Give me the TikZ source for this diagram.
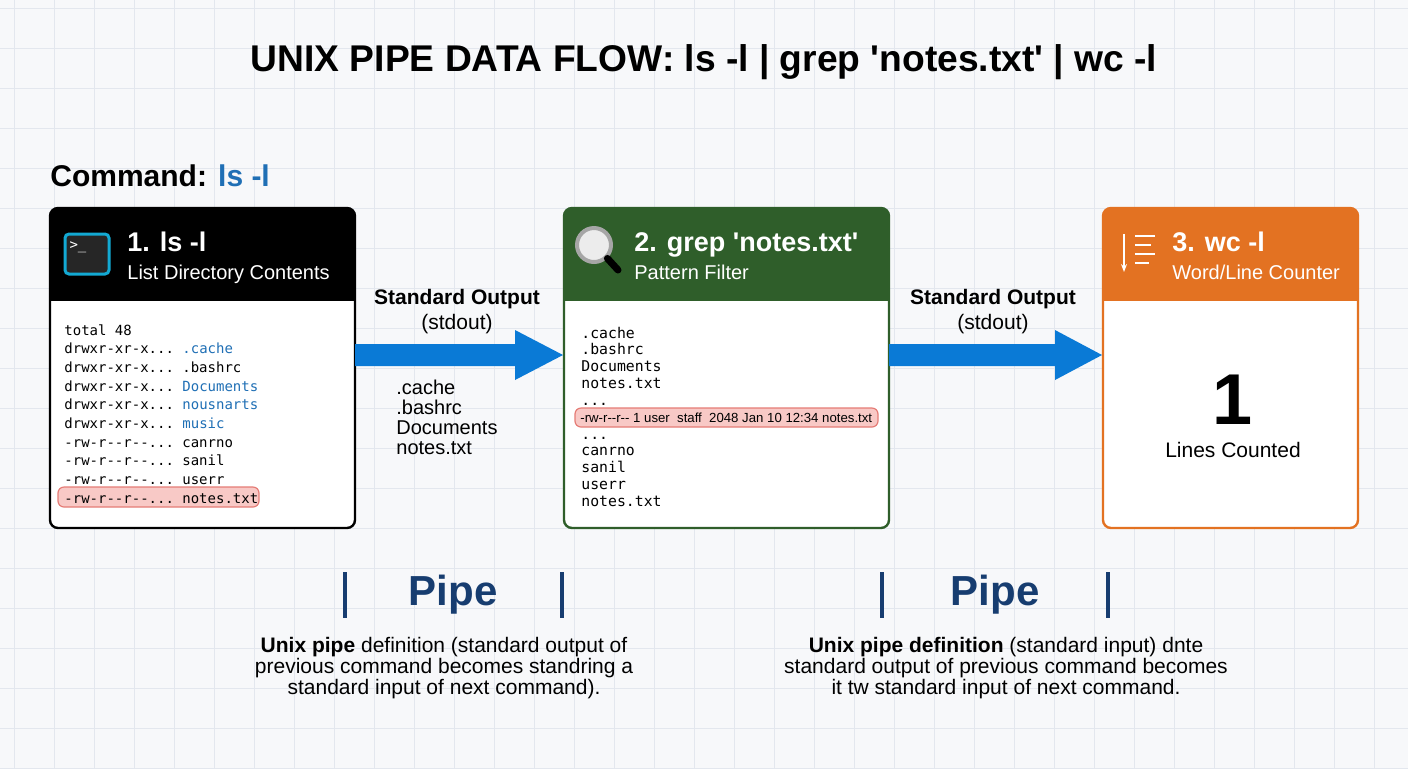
\documentclass[tikz,border=0pt]{standalone}
\usepackage{fontspec}
\setmainfont{Liberation Sans}[Ligatures=TeXOff]
\setmonofont{DejaVu Sans Mono}
\usetikzlibrary{arrows.meta}
\definecolor{bg}{HTML}{F7F8FA}
\definecolor{gridc}{HTML}{E3E7EE}
\definecolor{hdrg}{HTML}{2F5E2A}
\definecolor{hdro}{HTML}{E37222}
\definecolor{abl}{HTML}{0A7AD6}
\definecolor{lnk}{HTML}{1F6FB5}
\definecolor{pipec}{HTML}{173D70}
\definecolor{hl}{HTML}{F8C9C6}
\definecolor{hlb}{HTML}{E57C76}
\newcommand{\fs}[1]{\fontsize{#1}{#1}\selectfont}
\newcommand{\dd}{.{}.{}.}
\tikzset{x=0.5pt,y=-0.5pt,
 card/.style={draw=#1,line width=1.2pt,rounded corners=4pt},
 txt/.style={inner sep=0pt,anchor=base west},
 mono/.style={txt,font=\ttfamily\fs{7.0}},
 lab/.style={inner sep=0pt,align=center,font=\fs{10.5}\bfseries},
 bodyt/.style={inner sep=0pt,align=center,font=\fs{10.5}}}
\begin{document}
\begin{tikzpicture}
\useasboundingbox (0,0) rectangle (1408,768);
\fill[bg] (0,0) rectangle (1408,768);
\foreach \i in {0,...,35}{\draw[gridc,line width=0.4pt] (\i*40+14,0)--(\i*40+14,768);}
\foreach \j in {0,...,19}{\draw[gridc,line width=0.4pt] (0,\j*40+8)--(1408,\j*40+8);}
\node[inner sep=0pt,font=\fs{18.6}\bfseries] (title) at (704,62) {UNIX PIPE DATA FLOW: ls -l | grep 'notes.txt' | wc -l};
\node[txt,font=\fs{15}\bfseries] (cmd) at (50,186) {Command: \textcolor{lnk}{ls -l}};
% box 1
\fill[white,rounded corners=4pt] (50,208) rectangle (355,528);
\begin{scope}
\clip[rounded corners=4pt] (50,208) rectangle (355,528);
\fill[black] (50,208) rectangle (355,301);
\end{scope}
\draw[card=black] (50,208) rectangle (355,528);
\node[draw=lnk!60!cyan,fill=black!85,line width=1.5pt,rounded corners=2pt,minimum width=22pt,minimum height=20pt] (ic1) at (87,254) {};
\node[inner sep=0pt,text=white,font=\ttfamily\fs{7}] (ic1t) at (78,247) {>\_};
\node[txt,text=white,font=\fs{13.5}\bfseries] (h1) at (127,251) {1. ls -l};
\node[txt,text=white,font=\fs{10}] (s1) at (127,279) {List Directory Contents};
\fill[hl,draw=hlb,line width=0.6pt,rounded corners=3pt] (58,487) rectangle (259,507);
\foreach \t [count=\k] in {total 48,drwxr-xr-x\dd{} \textcolor{lnk}{.cache},drwxr-xr-x\dd{} .bashrc,drwxr-xr-x\dd{} \textcolor{lnk}{Documents},drwxr-xr-x\dd{} \textcolor{lnk}{nousnarts},drwxr-xr-x\dd{} \textcolor{lnk}{music},-rw-r--r--\dd{} canrno,-rw-r--r--\dd{} sanil,-rw-r--r--\dd{} userr,-rw-r--r--\dd{} notes.txt}
 \node[mono] at (64,335+\k*18.7-18.7) {\t};
% box 2
\fill[white,rounded corners=4pt] (564,208) rectangle (889,528);
\begin{scope}
\clip[rounded corners=4pt] (564,208) rectangle (889,528);
\fill[hdrg] (564,208) rectangle (889,301);
\end{scope}
\draw[card=hdrg] (564,208) rectangle (889,528);
\node[draw=gray!70,fill=gray!15,line width=2pt,circle,minimum size=17pt,inner sep=0pt] (mag) at (594,245) {};
\draw[black,line width=3.5pt,line cap=round] (mag.-45)--(618,270);
\node[txt,text=white,font=\fs{13.5}\bfseries] (h2) at (634,251) {2. grep 'notes.txt'};
\node[txt,text=white,font=\fs{10}] (s2) at (634,279) {Pattern Filter};
\fill[hl,draw=hlb,line width=0.6pt,rounded corners=3pt] (575,408) rectangle (878,427);
\foreach \t [count=\k] in {.cache,.bashrc,Documents,notes.txt,\dd}
 \node[mono,font=\ttfamily\fs{7.4}] at (581,338+\k*16.8-16.8) {\t};
\node[txt,font=\fs{6.6}] at (580,422) {-rw-r--r-- 1 user\ \ staff\ \ 2048 Jan 10 12:34 notes.txt};
\foreach \t [count=\k] in {\dd,canrno,sanil,userr,notes.txt}
 \node[mono,font=\ttfamily\fs{7.4}] at (581,439+\k*16.8-16.8) {\t};
% box 3
\fill[white,rounded corners=4pt] (1103,208) rectangle (1358,528);
\begin{scope}
\clip[rounded corners=4pt] (1103,208) rectangle (1358,528);
\fill[hdro] (1103,208) rectangle (1358,301);
\end{scope}
\draw[card=hdro] (1103,208) rectangle (1358,528);
\draw[white,line width=1.2pt,-{Stealth[length=4pt]}] (1124,234)--(1124,272);
\foreach \yy/\ww in {236/20,245/16,254/20,263/14}\draw[white,line width=1.4pt] (1135,\yy)--(1135+\ww,\yy);
\node[txt,text=white,font=\fs{13.5}\bfseries] (h3) at (1172,251) {3. wc -l};
\node[txt,text=white,font=\fs{10}] (s3) at (1172,279) {Word/Line Counter};
\node[inner sep=0pt,font=\fs{36}\bfseries] (one) at (1233,400) {1};
\node[bodyt] (lc) at (1233,450) {Lines Counted};
% arrows
\fill[abl] (355,344)--(515,344)--(515,330)--(563,355)--(515,380)--(515,366)--(355,366)--cycle;
\fill[abl] (889,344)--(1055,344)--(1055,330)--(1102,355)--(1055,380)--(1055,366)--(889,366)--cycle;
\node[lab] (so1) at (457,312) {Standard Output\\[2pt]\mdseries (stdout)};
\node[lab] (so2) at (993,312) {Standard Output\\[2pt]\mdseries (stdout)};
\node[inner sep=0pt,align=left,anchor=north west,font=\fs{10}] (lst) at (396,380) {.cache\\.bashrc\\Documents\\notes.txt};
% pipes
\foreach \cx/\l/\r in {453/345/562,995/882/1108}{
 \node[inner sep=0pt,text=pipec,font=\fs{21}\bfseries] at (\cx,595) {Pipe};
 \fill[pipec] (\l-2,572) rectangle (\l+2,618);
 \fill[pipec] (\r-2,572) rectangle (\r+2,618);}
\node[bodyt] (d1) at (444,668) {\textbf{Unix pipe} definition (standard output of\\previous command becomes standring a\\standard input of next command).};
\node[bodyt] (d2) at (1006,668) {\textbf{Unix pipe definition} (standard input) dnte\\standard output of previous command becomes\\it tw standard input of next command.};
\end{tikzpicture}
\end{document}
